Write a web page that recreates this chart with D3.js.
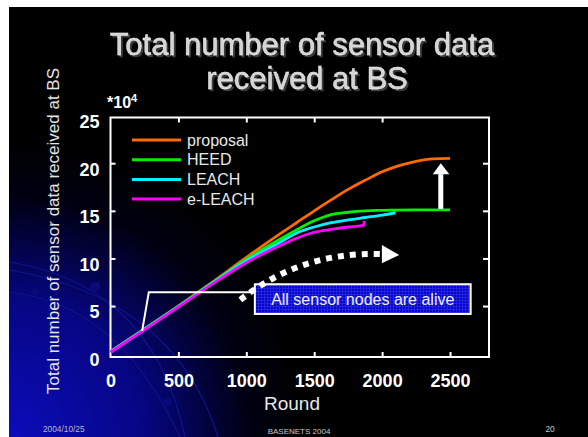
<!DOCTYPE html>
<html><head><meta charset="utf-8">
<script src="https://cdn.jsdelivr.net/npm/d3@7"></script>
<style>html,body{margin:0;padding:0;background:#fff;} svg{display:block;font-family:"Liberation Sans",Arial,sans-serif;}</style>
</head><body><svg id="c" width="588" height="437"></svg>
<script>
// ---- data ----
const seriesNames = ["proposal", "HEED", "LEACH", "e-LEACH"];
const proposalRounds = [0, 250, 500, 750, 1000, 1250, 1375, 1500, 1625, 1750, 1875, 2000, 2125, 2250, 2375, 2500];
const proposalValues = [0.2, 2.6, 5.0, 7.5, 10.1, 12.6, 13.8, 15.0, 16.15, 17.25, 18.2, 19.1, 19.75, 20.2, 20.45, 20.5];
const heedRounds = [0, 250, 500, 750, 1000, 1250, 1375, 1500, 1625, 1750, 1875, 2000, 2250, 2500];
const heedValues = [0.2, 2.6, 5.0, 7.45, 9.9, 12.05, 13.05, 13.95, 14.6, 14.85, 15.0, 15.05, 15.1, 15.1];
const leachRounds = [0, 250, 500, 750, 1000, 1250, 1375, 1500, 1625, 1750, 1875, 2000, 2100];
const leachValues = [0.2, 2.55, 4.95, 7.4, 9.75, 11.7, 12.7, 13.3, 13.75, 14.05, 14.3, 14.55, 14.8];
const eleachRounds = [0, 250, 500, 750, 1000, 1250, 1375, 1500, 1625, 1750, 1850, 1865, 1868];
const eleachValues = [0.15, 2.5, 4.9, 7.3, 9.55, 11.35, 12.15, 12.75, 13.05, 13.3, 13.45, 13.5, 13.95];
const xTicks = [0, 500, 1000, 1500, 2000, 2500];
const yTicks = [0, 5, 10, 15, 20, 25];
const titleLines = ["Total number of sensor data", "received at BS"];
const xLabel = "Round";
const yLabel = "Total number of sensor data received at BS";
const noteText = "All sensor nodes are alive";
const footer = ["2004/10/25", "BASENETS 2004", "20"];

const colors = ["#ff6a00", "#00ee00", "#00f0ff", "#ff00ff"];
const series = [
  {name: seriesNames[0], r: proposalRounds, v: proposalValues},
  {name: seriesNames[1], r: heedRounds, v: heedValues},
  {name: seriesNames[2], r: leachRounds, v: leachValues},
  {name: seriesNames[3], r: eleachRounds, v: eleachValues}
];

const svg = d3.select("#c");
const defs = svg.append("defs");

// background slide
const rg = defs.append("radialGradient").attr("id","bg").attr("gradientUnits","userSpaceOnUse")
  .attr("cx",9).attr("cy",437).attr("r",300);
rg.append("stop").attr("offset","0").attr("stop-color","#0c0cbc");
rg.append("stop").attr("offset","0.45").attr("stop-color","#060684");
rg.append("stop").attr("offset","0.8").attr("stop-color","#000012");
rg.append("stop").attr("offset","1").attr("stop-color","#000000");
svg.append("rect").attr("x",0).attr("y",0).attr("width",588).attr("height",437).attr("fill","#fff");
svg.append("rect").attr("x",9).attr("y",7).attr("width",579).attr("height",430).attr("fill","#000");
svg.append("rect").attr("x",9).attr("y",7).attr("width",579).attr("height",430).attr("fill","url(#bg)");

// decorative arcs
const deco = svg.append("g").attr("fill","none").attr("stroke","#12128a").attr("stroke-width",1.2);
["M9,262 C90,275 160,320 185,437","M9,270 C100,285 185,330 218,437","M9,292 C70,300 130,330 180,437"]
  .forEach(d => deco.append("path").attr("d", d));
[[35,292,3.5],[95,287,5.5],[168,402,4]].forEach(c =>
  svg.append("circle").attr("cx",c[0]).attr("cy",c[1]).attr("r",c[2]).attr("fill","#0a0a78"));

// title with drop shadow filter
const f = defs.append("filter").attr("id","shadow").attr("x","-5%").attr("y","-20%").attr("width","110%").attr("height","150%");
f.append("feDropShadow").attr("dx",2).attr("dy",2).attr("stdDeviation",0.4).attr("flood-color","#3c3c3c").attr("flood-opacity",1);
titleLines.forEach((t,i) => {
  const cx = i === 0 ? 302 : 307, by = i === 0 ? 55 : 89;
  svg.append("text").attr("x",cx).attr("y",by).attr("text-anchor","middle").attr("filter","url(#shadow)")
    .attr("font-size",31).attr("fill","#d4d4d4").attr("stroke","#f4f4f4").attr("stroke-width",0.4).text(t);
});

// scales
const x = d3.scaleLinear().domain([0, 2787]).range([110.5, 489]);
const y = d3.scaleLinear().domain([-0.35, 24.8]).range([357, 117.5]);

// frame
svg.append("rect").attr("x",x(0)).attr("y",y(24.8)).attr("width",x(2787)-x(0)).attr("height",y(-0.35)-y(24.8))
  .attr("fill","none").attr("stroke","#fff").attr("stroke-width",2);

// axes
const gx = svg.append("g").attr("transform",`translate(0,${y(-0.35)})`)
  .call(d3.axisBottom(x).tickValues(xTicks).tickFormat(d3.format("d")).tickSizeInner(-5).tickSizeOuter(0).tickPadding(17));
gx.select(".domain").remove();
gx.selectAll("line").attr("stroke","#fff").attr("stroke-width",2).filter(d => d === 0).remove();
gx.selectAll("text").attr("fill","#fff").attr("font-size",18).attr("font-weight","bold")
  .attr("font-family","Liberation Sans, Arial, sans-serif");

const gt = svg.append("g").attr("transform",`translate(0,${y(24.8)})`)
  .call(d3.axisTop(x).tickValues(xTicks.slice(1,5)).tickFormat("").tickSizeInner(-5).tickSizeOuter(0));
gt.select(".domain").remove();
gt.selectAll("line").attr("stroke","#fff").attr("stroke-width",2);

const gy = svg.append("g").attr("transform",`translate(${x(0)},0)`)
  .call(d3.axisLeft(y).tickValues(yTicks).tickFormat(d3.format("d")).tickSizeInner(-5).tickSizeOuter(0).tickPadding(11));
gy.select(".domain").remove();
gy.selectAll("line").attr("stroke","#fff").attr("stroke-width",2).filter(d => d === 0 || d === 25).remove();
gy.selectAll("text").attr("fill","#fff").attr("font-size",18).attr("font-weight","bold").attr("dy","0.66em")
  .attr("font-family","Liberation Sans, Arial, sans-serif");

const gr = svg.append("g").attr("transform",`translate(${x(2787)},0)`)
  .call(d3.axisRight(y).tickValues(yTicks.slice(1,5)).tickFormat("").tickSizeInner(-6).tickSizeOuter(0));
gr.select(".domain").remove();
gr.selectAll("line").attr("stroke","#fff").attr("stroke-width",2);

// multiplier
const mt = svg.append("text").attr("x",107).attr("y",108).attr("fill","#fff").attr("font-size",16).attr("font-weight","bold");
mt.append("tspan").text("*10");
mt.append("tspan").attr("font-size",11).attr("dy",-6).text("4");

// axis labels
svg.append("text").attr("x",292).attr("y",410).attr("text-anchor","middle").attr("font-size",19)
  .attr("fill","#e8e8e8").text(xLabel);
svg.append("text").attr("transform","translate(59,231) rotate(-90)").attr("text-anchor","middle")
  .attr("font-size",17).attr("fill","#e4e4e4").text(yLabel);

// lines
const line = d3.line().x(d => x(d[0])).y(d => y(d[1])).curve(d3.curveMonotoneX);
series.forEach((s,i) => {
  const pts = s.r.map((r,j) => [r, s.v[j]]);
  svg.append("path").datum(pts).attr("d", line).attr("fill","none")
    .attr("stroke", colors[i]).attr("stroke-width", 2.8).attr("stroke-linejoin","round");
});

// legend
series.forEach((s,i) => {
  const ly = 140 + i*19.7;
  svg.append("line").attr("x1",132).attr("x2",181).attr("y1",ly).attr("y2",ly)
    .attr("stroke",colors[i]).attr("stroke-width",3);
  svg.append("text").attr("x",187).attr("y",ly+5.5).attr("font-size",16).attr("fill","#e8e8e8").text(s.name);
});

// annotation: pointer line + box
svg.append("path").attr("d", d3.line()([[x(233), y(2.4)], [x(282), y(6.44)], [x(1063), y(6.44)]]))
  .attr("fill","none").attr("stroke","#fff").attr("stroke-width",2);

const pat = defs.append("pattern").attr("id","grid").attr("patternUnits","userSpaceOnUse").attr("width",3).attr("height",3);
pat.append("rect").attr("width",3).attr("height",3).attr("fill","#0606c8");
pat.append("path").attr("d","M0,0.5 H3 M0.5,0 V3").attr("stroke","#2424e0").attr("stroke-width",1);
const bx0 = x(1063), bx1 = x(2652), by0 = y(7.29), by1 = y(4.17);
svg.append("rect").attr("x",bx0).attr("y",by0).attr("width",bx1-bx0).attr("height",by1-by0)
  .attr("fill","url(#grid)").attr("stroke","#fff").attr("stroke-width",2);
svg.append("text").attr("x",(bx0+bx1)/2).attr("y",(by0+by1)/2+5.5).attr("text-anchor","middle")
  .attr("font-size",16).attr("fill","#eef").text(noteText);

// dotted curved arrow
const p0 = [x(956), y(5.64)], pc = [x(1397), y(10.68)], p1 = [x(1985), y(10.47)];
svg.append("path").attr("d",`M${p0[0]},${p0[1]} Q${pc[0]},${pc[1]} ${p1[0]},${p1[1]}`)
  .attr("fill","none").attr("stroke","#fff").attr("stroke-width",6).attr("stroke-dasharray","6 6");
svg.append("path").attr("d", d3.line()([[x(1998), y(11.41)], [x(2126), y(10.36)], [x(1998), y(9.49)]]) + "Z")
  .attr("fill","#fff");

// up arrow
const ax = x(2432);
svg.append("rect").attr("x",ax-2.5).attr("y",y(18.85)).attr("width",5).attr("height",y(15.2)-y(18.85)).attr("fill","#fff");
svg.append("path").attr("d", d3.line()([[x(2373), y(18.85)], [ax, y(20.0)], [x(2495), y(18.85)]]) + "Z").attr("fill","#fff");

// footer
svg.append("text").attr("x",43).attr("y",432).attr("font-size",8.3).attr("fill","#b8b8c8").text(footer[0]);
svg.append("text").attr("x",299).attr("y",434).attr("text-anchor","middle").attr("font-size",8).attr("fill","#c8c8c8").text(footer[1]);
svg.append("text").attr("x",550).attr("y",432).attr("text-anchor","middle").attr("font-size",8.3).attr("fill","#c8c8c8").text(footer[2]);
</script></body></html>
